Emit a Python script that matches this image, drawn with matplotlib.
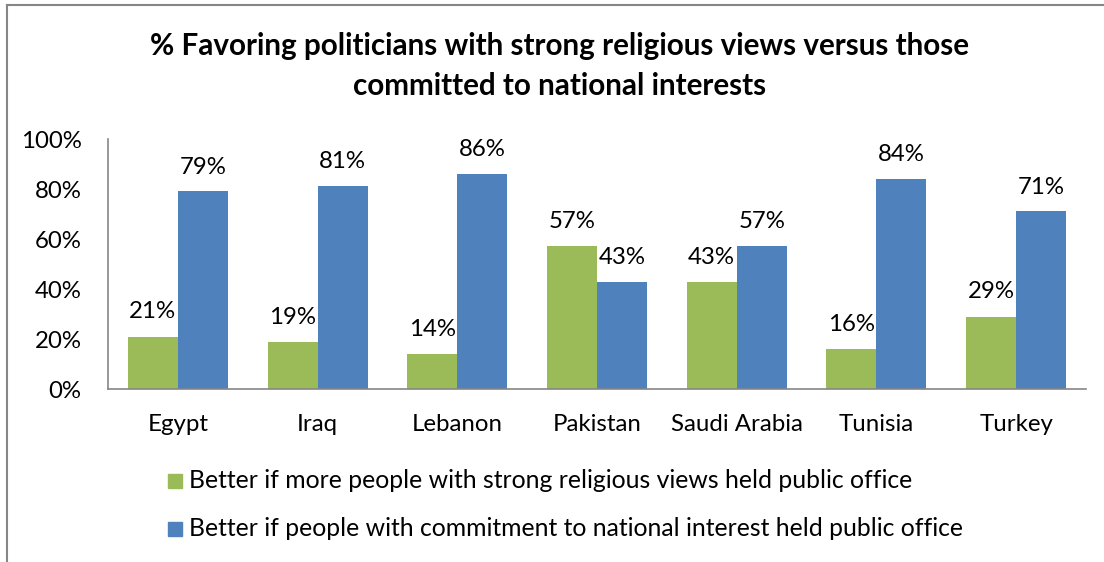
import matplotlib
matplotlib.use("Agg")
import matplotlib.pyplot as plt
import numpy as np
from matplotlib.lines import Line2D
from matplotlib.patches import Rectangle

countries = ["Egypt", "Iraq", "Lebanon", "Pakistan", "Saudi Arabia", "Tunisia", "Turkey"]
religious = [21, 19, 14, 57, 43, 16, 29]
national = [79, 81, 86, 43, 57, 84, 71]
series_names = ["Better if more people with strong religious views held public office",
                "Better if people with commitment to national interest held public office"]
yticks = [0, 20, 40, 60, 80, 100]
title = "% Favoring politicians with strong religious views versus those\ncommitted to national interests"

GREEN = "#9BBB59"
BLUE = "#4F81BD"
FONT = ["Lato", "DejaVu Sans"]
plt.rcParams["font.family"] = FONT
FS = 17.3

W, H = 1104, 562
fig = plt.figure(figsize=(W / 100, H / 100), dpi=100)
ax = fig.add_axes([108 / W, 1 - 389 / H, (1086 - 108) / W, (389 - 139) / H])

x = np.arange(len(countries))
bw = 0.358
b1 = ax.bar(x - bw / 2, religious, bw, color=GREEN)
b2 = ax.bar(x + bw / 2, national, bw, color=BLUE)
for bars, vals in ((b1, religious), (b2, national)):
    for r, v in zip(bars, vals):
        ax.text(r.get_x() + r.get_width() / 2, v + 7.2, f"{v}%", ha="center", va="baseline",
                fontsize=FS, color="#000000")

ax.set_xlim(-0.5, len(countries) - 0.5)
ax.set_ylim(0, 100)
ax.set_yticks(yticks)
ax.set_yticklabels([f"{t}%" for t in yticks])
ax.set_xticks(x)
ax.set_xticklabels(countries)
ax.tick_params(axis="both", length=0, labelsize=FS, colors="#000000")
ax.tick_params(axis="y", pad=19)
ax.tick_params(axis="x", pad=18)
for s in ("top", "right"):
    ax.spines[s].set_visible(False)
for s in ("left", "bottom"):
    ax.spines[s].set_color("#868686")
    ax.spines[s].set_linewidth(1.2)

fig.text(560 / W, 1 - 66 / H, title, ha="center", va="center", fontsize=21.3,
         fontweight="bold", linespacing=1.48)

# legend
for i, (name, col) in enumerate(zip(series_names, (GREEN, BLUE))):
    yc = 481 + i * 48
    fig.patches.append(Rectangle((168 / W, 1 - (yc + 7) / H), 14 / W, 14 / H,
                                 transform=fig.transFigure, color=col))
    fig.text(189 / W, 1 - yc / H, name, ha="left", va="center", fontsize=17.8)

# chart border
fig.add_artist(Line2D([7 / W, 7 / W], [0, 1 - 5 / H], transform=fig.transFigure,
                      color="#868686", lw=1.5))
fig.add_artist(Line2D([7 / W, 1], [1 - 5 / H, 1 - 5 / H], transform=fig.transFigure,
                      color="#868686", lw=1.5))

fig.savefig("out.png", dpi=100)
